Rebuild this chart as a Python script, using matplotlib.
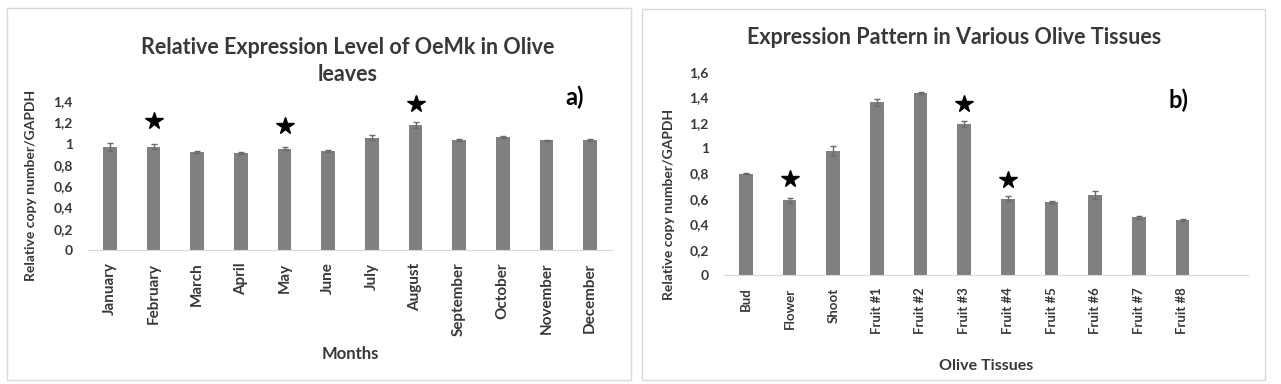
import matplotlib
matplotlib.use("Agg")
import matplotlib.pyplot as plt
from matplotlib.patches import Rectangle

plt.rcParams['font.family'] = ['Lato', 'DejaVu Sans']
plt.rcParams['font.weight'] = 'bold'

W, H = 1281, 384

# panel a) - months
months = ["January", "February", "March", "April", "May", "June", "July",
          "August", "September", "October", "November", "December"]
month_vals = [0.97, 0.97, 0.92, 0.91, 0.95, 0.93, 1.055, 1.175, 1.03, 1.06, 1.03, 1.035]
month_err = [0.04, 0.025, 0.01, 0.01, 0.015, 0.01, 0.025, 0.025, 0.01, 0.01, 0.005, 0.01]
month_star_idx = [1, 4, 7]
month_star_y = [1.21, 1.165, 1.37]

# panel b) - tissues
tissues = ["Bud", "Flower", "Shoot", "Fruit #1", "Fruit #2", "Fruit #3",
           "Fruit #4", "Fruit #5", "Fruit #6", "Fruit #7", "Fruit #8"]
tissue_vals = [0.80, 0.59, 0.98, 1.36, 1.435, 1.19, 0.60, 0.577, 0.63, 0.454, 0.43]
tissue_err = [0.005, 0.02, 0.04, 0.025, 0.005, 0.02, 0.02, 0.008, 0.03, 0.01, 0.008]
tissue_star_idx = [1, 5, 6]
tissue_star_y = [0.76, 1.35, 0.75]

BAR = '#808080'
TXT = '#383838'


def px_axes(fig, x0, x1, ybot, ytop):
    return fig.add_axes([x0 / W, 1 - ybot / H, (x1 - x0) / W, (ybot - ytop) / H])


def style_panel(ax, labels, ymax, step, xsize):
    ax.set_xlim(-0.5, 11.5)
    ax.set_ylim(0, ymax)
    ticks = [round(i * step, 1) for i in range(int(round(ymax / step)) + 1)]
    ax.set_yticks(ticks)
    ax.set_yticklabels([("%g" % t).replace('.', ',') for t in ticks],
                       fontsize=10, color=TXT, fontweight='bold')
    ax.set_xticks(range(len(labels)))
    ax.set_xticklabels(labels, rotation=90, fontsize=xsize, color=TXT, fontweight='bold')
    for s in ['top', 'right', 'left']:
        ax.spines[s].set_visible(False)
    ax.spines['bottom'].set_color('#d9d9d9')
    ax.tick_params(length=0)
    ax.tick_params(axis='y', pad=11)
    ax.tick_params(axis='x', pad=9)
    ax.patch.set_alpha(0)


fig = plt.figure(figsize=(W / 100, H / 100), dpi=100)

# panel frames
fig.patches.append(Rectangle((7 / W, 1 - 380 / H), 624 / W, 372 / H, transform=fig.transFigure,
                             fill=False, edgecolor='#d9d9d9', lw=1))
fig.patches.append(Rectangle((642 / W, 1 - 380 / H), 623 / W, 371 / H, transform=fig.transFigure,
                             fill=False, edgecolor='#d9d9d9', lw=1))

# left panel
ax1 = px_axes(fig, 88, 612, 250, 101)
ax1.bar(range(len(months)), month_vals, width=0.31, color=BAR,
        yerr=month_err, error_kw=dict(ecolor='#6a6a6a', capsize=2.5, lw=1, capthick=1))
ax1.plot(month_star_idx, month_star_y, linestyle='none', marker='*', color='black',
         markersize=13, clip_on=False)
style_panel(ax1, months, 1.4, 0.2, 11)
ax1.set_xlabel("Months", fontsize=12, color=TXT, fontweight='bold', labelpad=7)
ax1.set_ylabel("Relative copy number/GAPDH", fontsize=10, color=TXT, fontweight='bold')
ax1.yaxis.set_label_coords(-0.097, 0.43)
fig.text(348 / W, 1 - 61 / H, "Relative Expression Level of OeMk in Olive\nleaves",
         ha='center', va='center', fontsize=15.5, color=TXT, fontweight='bold', linespacing=1.3)
fig.text(575 / W, 1 - 97 / H, "a)", ha='center', va='center', fontsize=17, color='black',
         fontweight='bold')

# right panel
ax2 = px_axes(fig, 724, 1248, 275, 72)
ax2.bar(range(len(tissues)), tissue_vals, width=0.31, color=BAR,
        yerr=tissue_err, error_kw=dict(ecolor='#6a6a6a', capsize=2.5, lw=1, capthick=1))
ax2.plot(tissue_star_idx, tissue_star_y, linestyle='none', marker='*', color='black',
         markersize=13, clip_on=False)
style_panel(ax2, tissues, 1.6, 0.2, 9.5)
ax2.set_xlabel("Olive Tissues", fontsize=11.5, color=TXT, fontweight='bold', labelpad=18)
ax2.set_ylabel("Relative copy number/GAPDH", fontsize=10, color=TXT, fontweight='bold')
ax2.yaxis.set_label_coords(-0.093, 0.35)
fig.text(954 / W, 1 - 38 / H, "Expression Pattern in Various Olive Tissues",
         ha='center', va='center', fontsize=15.5, color=TXT, fontweight='bold')
fig.text(1178 / W, 1 - 100 / H, "b)", ha='center', va='center', fontsize=17, color='black',
         fontweight='bold')

fig.savefig("out.png", dpi=100)
